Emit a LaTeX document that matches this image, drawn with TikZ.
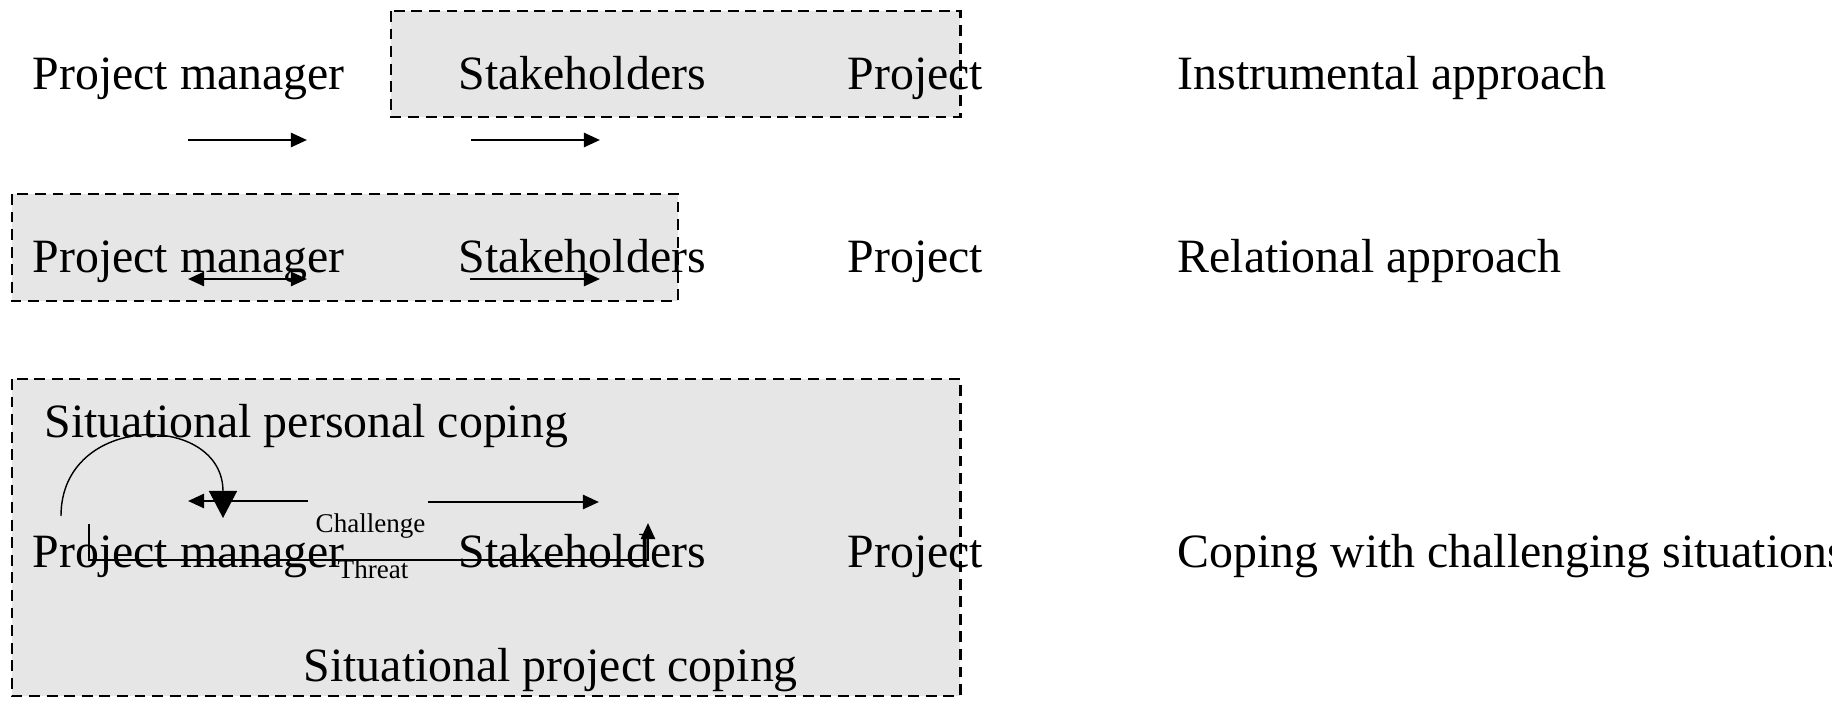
\documentclass[tikz,border=0pt]{standalone}
\usepackage{fontspec}
\setmainfont{Liberation Serif}
\usetikzlibrary{arrows.meta}
\definecolor{boxgray}{RGB}{230,230,230}
\begin{document}
\begin{tikzpicture}[x=0.01cm, y=-0.01cm, >={Triangle[length=0.16cm,width=0.14cm]},
  lbl/.style={inner sep=0pt, anchor=base west, font=\fontsize{13.6}{16}\selectfont},
  tag/.style={inner sep=0pt, anchor=base west, font=\fontsize{7.7}{9}\selectfont},
  zone/.style={draw, dash pattern=on 3.1pt off 1.9pt, line width=0.85pt, fill=boxgray},
  link/.style={line width=0.7pt}]
\useasboundingbox (0,0) rectangle (1832,703);
% dashed areas
\draw[zone] (391,11) rectangle (960,117);
\draw[zone] (12,194) rectangle (678,301);
\draw[zone] (12,379) rectangle (960,696);
% instrumental
\node[lbl] (mgr1) at (32,89) {Project manager};
\node[lbl] (stake1) at (458,89) {Stakeholders};
\node[lbl] (proj1) at (847,89) {Project};
\node[lbl] (appr1) at (1177,89) {Instrumental approach};
% relational
\node[lbl] (mgr2) at (32,272) {Project manager};
\node[lbl] (stake2) at (458,272) {Stakeholders};
\node[lbl] (proj2) at (847,272) {Project};
\node[lbl] (appr2) at (1177,272) {Relational approach};
% coping
\node[lbl] (pers) at (44,437) {Situational personal coping};
\node[lbl] (mgr3) at (32,567) {Project manager};
\node[lbl] (stake3) at (458,567) {Stakeholders};
\node[lbl] (proj3) at (847,567) {Project};
\node[lbl] (appr3) at (1177,567) {Coping with challenging situations};
\node[lbl] (projc) at (303,681) {Situational project coping};
\node[tag] (chal) at (315,532) {Challenge};
\node[tag] (thr) at (337,578) {Threat};
% arrow ends
\coordinate (a1) at (188,140);
\coordinate (a2) at (307,140);
\coordinate (b1) at (471,140);
\coordinate (b2) at (600,140);
\coordinate (c1) at (188,279);
\coordinate (c2) at (307,279);
\coordinate (d1) at (470,279);
\coordinate (d2) at (600,279);
\coordinate (e1) at (308,501);
\coordinate (e2) at (188,501);
\coordinate (f1) at (428,502);
\coordinate (f2) at (599,502);
\coordinate (g1) at (61,516);
\coordinate (g2) at (223,518);
\coordinate (t1) at (89,524);
\coordinate (t2) at (89,560);
\coordinate (t3) at (648,560);
\coordinate (t4) at (648,523);
\draw[link,->] (a1) -- (a2);
\draw[link,->] (b1) -- (b2);
\draw[link,<->] (c1) -- (c2);
\draw[link,->] (d1) -- (d2);
\draw[link,->] (e1) -- (e2);
\draw[link,->] (f1) -- (f2);
\draw[line width=0.4pt,-{Triangle[length=0.27cm,width=0.28cm]}] (g1) .. controls (61,412) and (223,412) .. (g2);
\draw[link,->] (t1) -- (t2) -- (t3) -- (t4);
\end{tikzpicture}
\end{document}
